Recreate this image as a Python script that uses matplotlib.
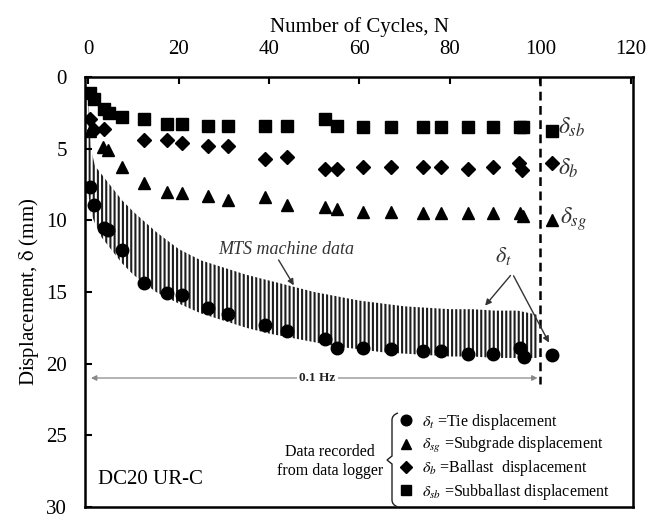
import matplotlib
matplotlib.use("Agg")
import matplotlib.pyplot as plt
from matplotlib.path import Path
from matplotlib.patches import PathPatch

plt.rcParams["font.family"] = "serif"
plt.rcParams["font.serif"] = ["Liberation Serif", "Times New Roman", "DejaVu Serif"]
plt.rcParams["mathtext.fontset"] = "stix"
plt.rcParams["hatch.color"] = "#1e1e1e"
plt.rcParams["hatch.linewidth"] = 1.5

# data logger readings (cycle number, displacement in mm)
sb_n = [0.3, 1.3, 3.4, 4.7, 7.5, 12.4, 17.5, 20.7, 26.5, 31, 39, 44, 52.4, 55,
        60.7, 67, 74, 78, 84, 89.5, 95.5, 96.2, 102.5]
sb_y = [1.1, 1.5, 2.2, 2.5, 2.8, 2.9, 3.3, 3.3, 3.4, 3.4, 3.4, 3.4, 2.9, 3.4,
        3.5, 3.5, 3.5, 3.5, 3.5, 3.5, 3.5, 3.5, 3.8]

b_n = [0.3, 1.2, 3.4, 12.4, 17.5, 20.7, 26.5, 31, 39, 44, 52.4, 55, 60.7, 67,
       74, 78, 84, 89.5, 95.3, 96.0, 102.5]
b_y = [2.9, 3.7, 3.6, 4.4, 4.4, 4.6, 4.8, 4.8, 5.7, 5.6, 6.4, 6.4, 6.3, 6.3,
       6.3, 6.3, 6.4, 6.3, 6.0, 6.5, 6.0]

sg_n = [0.4, 3.2, 4.4, 7.5, 12.4, 17.5, 20.7, 26.5, 31, 39, 44, 52.4, 55,
        60.7, 67, 74, 78, 84, 89.5, 95.5, 96.2, 102.5]
sg_y = [3.8, 4.9, 5.1, 6.3, 7.4, 8.0, 8.1, 8.3, 8.6, 8.4, 8.9, 9.1, 9.2,
        9.4, 9.4, 9.5, 9.5, 9.5, 9.5, 9.5, 9.7, 10.0]

t_n = [0.4, 1.3, 3.4, 4.4, 7.5, 12.4, 17.5, 20.7, 26.5, 31, 39, 44, 52.4, 55,
       60.7, 67, 74, 78, 84, 89.5, 95.5, 96.5, 102.5]
t_y = [7.7, 8.9, 10.5, 10.7, 12.1, 14.4, 15.1, 15.2, 16.1, 16.5, 17.3, 17.7,
       18.3, 18.9, 18.9, 19.0, 19.1, 19.1, 19.3, 19.3, 18.9, 19.5, 19.4]

# envelope of the MTS machine signal (0.1 Hz cyclic loading)
mts_n = [0, 0.6, 1.5, 3, 5, 7.5, 10, 15, 20, 25, 30, 35, 40, 45, 50, 55, 60,
         65, 70, 75, 80, 85, 90, 95, 99.5]
mts_top = [1.0, 5.0, 6.2, 6.8, 7.6, 8.6, 9.4, 10.8, 12.0, 12.8, 13.3, 13.8,
           14.2, 14.6, 15.0, 15.3, 15.6, 15.8, 16.0, 16.1, 16.2, 16.2, 16.3,
           16.3, 16.6]
mts_bot = [8.0, 9.5, 10.2, 11.2, 12.0, 13.0, 13.8, 15.0, 15.8, 16.5, 17.0,
           17.5, 17.9, 18.2, 18.5, 18.8, 19.0, 19.2, 19.3, 19.4, 19.5, 19.5,
           19.6, 19.6, 19.6]

fig = plt.figure(figsize=(6.62, 5.14), dpi=100)
ax = fig.add_axes([85 / 662, 7 / 514, 548 / 662, 430 / 514])

ax.fill_between(mts_n, mts_top, mts_bot, facecolor="none", edgecolor="#1e1e1e",
                linewidth=0, hatch="||||")

ax.plot(t_n, t_y, "o", color="black", ms=9, label=r"$\delta_t$ =Tie displacement")
ax.plot(sg_n, sg_y, "^", color="black", ms=9,
        label=r"$\delta_{sg}$ =Subgrade displacement")
ax.plot(b_n, b_y, "D", color="black", ms=7.5,
        label=r"$\delta_b$ =Ballast  displacement")
ax.plot(sb_n, sb_y, "s", color="black", ms=8,
        label=r"$\delta_{sb}$ =Subballast displacement")

# end of loading
ax.plot([100, 100], [0, 21.4], color="black", lw=1.8, ls=(0, (3.5, 2.2)))

ax.set_xlim(-0.7, 120.5)
ax.set_ylim(30, 0)
ax.set_xticks(range(0, 121, 20))
ax.set_yticks(range(0, 31, 5))
ax.xaxis.tick_top()
ax.xaxis.set_label_position("top")
ax.tick_params(direction="in", length=5, width=1.5, labelsize=15, pad=13)
ax.set_xlabel("Number of Cycles, N", fontsize=15, labelpad=6)
ax.set_ylabel(r"Displacement, $\mathrm{\delta}$ (mm)", fontsize=15, labelpad=4)
for s in ax.spines.values():
    s.set_linewidth(1.8)

# annotations
ax.text(43.8, 12.0, "MTS machine data", style="italic", fontsize=13,
        color="#333333", ha="center", va="center")
ax.annotate("", xy=(45.8, 14.7), xytext=(41.8, 12.6),
            arrowprops=dict(arrowstyle="-|>", color="#333333", lw=1.0,
                            mutation_scale=9))
ax.text(91.8, 12.5, r"$\delta_t$", fontsize=16, color="#333333",
        ha="center", va="center")
for tip in [(87.4, 16.1), (102.2, 18.7)]:
    ax.annotate("", xy=tip, xytext=(93.8, 13.7),
                arrowprops=dict(arrowstyle="-|>", color="#333333", lw=1.0,
                                mutation_scale=9))
ax.annotate("", xy=(0, 21.0), xytext=(100, 21.0),
            arrowprops=dict(arrowstyle="<|-|>", color="#888888", lw=0.9,
                            mutation_scale=8))
ax.text(50.7, 21.0, "0.1 Hz", fontsize=9.5, fontweight="bold", ha="center",
        va="center", color="#222222",
        bbox=dict(facecolor="white", edgecolor="none", pad=1.5))

ax.text(104.0, 3.5, r"$\delta_{sb}$", fontsize=17, color="#333333", va="center")
ax.text(104.0, 6.4, r"$\delta_b$", fontsize=17, color="#333333", va="center")
ax.text(104.3, 9.9, r"$\delta_{sg}$", fontsize=17, color="#333333", va="center")

ax.text(2.2, 28.1, "DC20 UR-C", fontsize=15, va="center")
ax.text(53.5, 26.8, "Data recorded\nfrom data logger", fontsize=11.5,
        ha="center", va="center", linespacing=1.25)

# brace in front of the legend
bx = [398, 392, 392, 392, 387, 392, 392, 392, 398]
by = [413, 415, 420, 456, 460, 464, 500, 505, 507]
verts = [(x / 662, 1 - y / 514) for x, y in zip(bx, by)]
codes = [Path.MOVETO, Path.CURVE3, Path.CURVE3, Path.LINETO, Path.LINETO,
         Path.LINETO, Path.LINETO, Path.CURVE3, Path.CURVE3]
fig.add_artist(PathPatch(Path(verts, codes), transform=fig.transFigure,
                         facecolor="none", edgecolor="#222222", lw=1.0))

leg = ax.legend(loc="upper left", bbox_to_anchor=(400 / 662, 1 - 412 / 514),
                bbox_transform=fig.transFigure, frameon=False, fontsize=11.5,
                handlelength=0.8, handletextpad=0.6, labelspacing=0.2,
                borderpad=0, borderaxespad=0, markerscale=0.85)

fig.savefig("out.png", dpi=100)
